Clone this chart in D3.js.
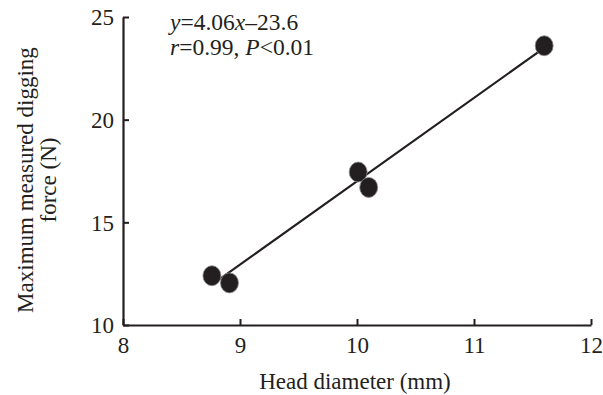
<!DOCTYPE html>
<meta charset="utf-8">
<html>
<head>
<style>
  body { margin: 0; background: #fff; }
  text { font-family: "Liberation Serif", "Times New Roman", serif; fill: #231f20; }
</style>
</head>
<body>
<script src="https://cdn.jsdelivr.net/npm/d3@7"></script>
<script>
  // data
  var headDiameter = [8.76, 8.91, 10.01, 10.10, 11.60];
  var diggingForce = [12.4, 12.05, 17.45, 16.7, 23.6];
  var xTicks = [8, 9, 10, 11, 12];
  var yTicks = [10, 15, 20, 25];
  var slope = 4.06, intercept = -23.6;

  var width = 603, height = 395;

  var svg = d3.select("body").append("svg")
    .attr("width", width)
    .attr("height", height);

  var x = d3.scaleLinear().domain([8, 12]).range([123, 591]);
  var y = d3.scaleLinear().domain([10, 25]).range([325, 17]);

  // x axis
  var xAxis = svg.append("g")
    .attr("transform", "translate(0," + y(10) + ")")
    .call(d3.axisBottom(x).tickValues(xTicks).tickFormat(d3.format("d"))
      .tickSizeInner(-6).tickSizeOuter(0).tickPadding(12));

  // y axis
  var yAxis = svg.append("g")
    .attr("transform", "translate(" + x(8) + ",0)")
    .call(d3.axisLeft(y).tickValues(yTicks).tickFormat(d3.format("d"))
      .tickSizeInner(-6).tickSizeOuter(0).tickPadding(9));

  [xAxis, yAxis].forEach(function(ax) {
    ax.select(".domain").attr("stroke", "#231f20").attr("stroke-width", 2.2);
    ax.selectAll(".tick line").attr("stroke", "#231f20").attr("stroke-width", 2);
    ax.selectAll(".tick text")
      .attr("fill", "#231f20")
      .style("font-family", "'Liberation Serif', serif")
      .style("font-size", "23px");
  });
  yAxis.selectAll(".tick text").attr("dy", "0.34em");

  // regression line
  var xMin = d3.min(headDiameter), xMax = d3.max(headDiameter);
  svg.append("line")
    .attr("x1", x(xMin)).attr("y1", y(slope * xMin + intercept))
    .attr("x2", x(xMax)).attr("y2", y(slope * xMax + intercept))
    .attr("stroke", "#231f20")
    .attr("stroke-width", 2.2);

  // points
  svg.selectAll(".pt")
    .data(headDiameter)
    .enter().append("ellipse")
      .attr("class", "pt")
      .attr("cx", function(d) { return x(d); })
      .attr("cy", function(d, i) { return y(diggingForce[i]); })
      .attr("rx", 9)
      .attr("ry", 10)
      .attr("fill", "#231f20")
      .attr("stroke", "#8a8a8a")
      .attr("stroke-width", 0.8);

  // equation
  var eq1 = svg.append("text").attr("x", 170).attr("y", 30).style("font-size", "23.5px");
  eq1.append("tspan").style("font-style", "italic").text("y");
  eq1.append("tspan").text("=4.06");
  eq1.append("tspan").style("font-style", "italic").text("x");
  eq1.append("tspan").text("\u201323.6");

  var eq2 = svg.append("text").attr("x", 170).attr("y", 55).style("font-size", "23.5px");
  eq2.append("tspan").style("font-style", "italic").text("r");
  eq2.append("tspan").text("=0.99, ");
  eq2.append("tspan").style("font-style", "italic").text("P");
  eq2.append("tspan").text("<0.01");

  // axis titles
  svg.append("text")
    .attr("x", 355)
    .attr("y", 389)
    .attr("text-anchor", "middle")
    .style("font-size", "23px")
    .text("Head diameter (mm)");

  var yTitle = svg.append("text")
    .attr("transform", "translate(33,180) rotate(-90)")
    .attr("text-anchor", "middle")
    .style("font-size", "23px");
  yTitle.append("tspan").attr("x", 0).attr("dy", 0).text("Maximum measured digging");
  yTitle.append("tspan").attr("x", 0).attr("dy", 23).text("force (N)");
</script>
</body>
</html>
